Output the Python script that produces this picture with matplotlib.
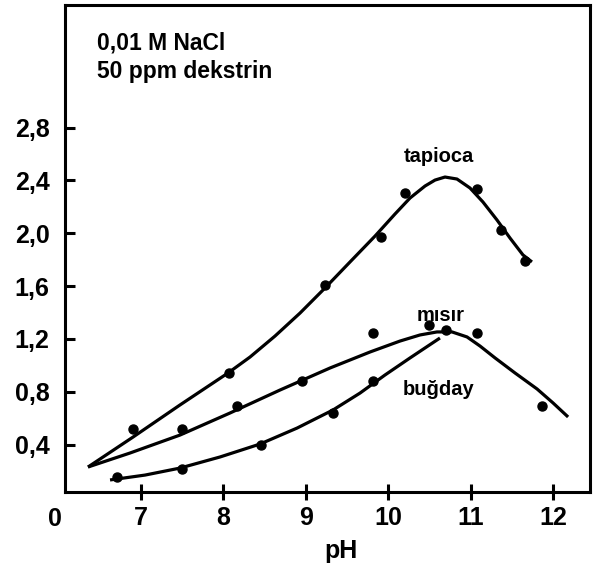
import matplotlib.pyplot as plt

plt.rcParams['font.family'] = ['Liberation Sans', 'DejaVu Sans']
plt.rcParams['font.weight'] = 'bold'

# measured points (pH, value)
tapioca_ph = [6.90, 8.07, 9.23, 9.91, 10.20, 11.07, 11.36, 11.655]
tapioca_val = [0.52, 0.94, 1.61, 1.97, 2.305, 2.335, 2.025, 1.79]

misir_ph = [7.50, 8.16, 8.95, 9.81, 10.49, 11.07, 11.86]
misir_val = [0.52, 0.69, 0.88, 1.245, 1.305, 1.245, 0.69]

bugday_ph = [6.71, 7.50, 8.455, 9.33, 9.81, 10.70]
bugday_val = [0.155, 0.215, 0.397, 0.64, 0.88, 1.27]

# hand drawn fit curves
tapioca_fit_ph = [6.358, 6.904, 7.473, 8.055, 8.322, 8.625, 8.928, 9.231, 9.534,
                  9.837, 10.079, 10.261, 10.443, 10.564, 10.685, 10.830, 10.988,
                  11.145, 11.315, 11.473, 11.630, 11.739]
tapioca_fit_val = [0.230, 0.457, 0.700, 0.942, 1.063, 1.222, 1.396, 1.586, 1.783,
                   1.979, 2.146, 2.267, 2.358, 2.403, 2.426, 2.411, 2.343,
                   2.237, 2.101, 1.964, 1.836, 1.783]

misir_fit_ph = [6.358, 6.867, 7.473, 8.079, 8.685, 9.292, 9.776, 10.140, 10.382,
                10.588, 10.770, 10.952, 11.110, 11.292, 11.534, 11.801, 11.995, 12.177]
misir_fit_val = [0.230, 0.336, 0.472, 0.639, 0.813, 0.980, 1.101, 1.184, 1.230,
                 1.253, 1.253, 1.215, 1.146, 1.056, 0.942, 0.821, 0.715, 0.609]

bugday_fit_ph = [6.625, 7.049, 7.473, 7.958, 8.443, 8.892, 9.328, 9.655, 9.958,
                 10.261, 10.624]
bugday_fit_val = [0.132, 0.169, 0.222, 0.306, 0.404, 0.525, 0.662, 0.790, 0.927,
                  1.056, 1.207]

x_ticks = [7, 8, 9, 10, 11, 12]
y_ticks = [0.4, 0.8, 1.2, 1.6, 2.0, 2.4, 2.8]
y_labels = ['0,4', '0,8', '1,2', '1,6', '2,0', '2,4', '2,8']

fig = plt.figure(figsize=(5.93, 5.72), dpi=100)
ax = fig.add_axes([0.1096, 0.1399, 0.8854, 0.8514])

lw = 2.3
for px, py in [(tapioca_fit_ph, tapioca_fit_val), (misir_fit_ph, misir_fit_val),
               (bugday_fit_ph, bugday_fit_val)]:
    ax.plot(px, py, color='black', lw=lw, solid_capstyle='butt', solid_joinstyle='round')

for px, py in [(tapioca_ph, tapioca_val), (misir_ph, misir_val), (bugday_ph, bugday_val)]:
    ax.plot(px, py, 'o', color='black', ms=6.5, ls='none')

ax.set_xlim(6.079, 12.443)
ax.set_ylim(0.041, 3.729)

ax.set_xticks(x_ticks)
ax.set_xticklabels([str(t) for t in x_ticks])
ax.set_yticks(y_ticks)
ax.set_yticklabels(y_labels)

for s in ax.spines.values():
    s.set_linewidth(2.2)

ax.tick_params(axis='x', direction='inout', length=12, width=2.2, pad=4, labelsize=18)
ax.tick_params(axis='y', direction='in', length=7.5, width=2.2, pad=11, labelsize=18)

fig.text(55 / 593, 1 - 518.5 / 572, '0', ha='center', va='center', fontsize=18,
         fontweight='bold')

ax.set_xlabel('pH', fontsize=18, fontweight='bold', va='baseline')
ax.xaxis.set_label_coords(0.526, -0.1355)

ax.text(0.061, 0.9076, '0,01 M NaCl', transform=ax.transAxes, fontsize=16.5,
        fontweight='bold', va='baseline')
ax.text(0.061, 0.850, '50 ppm dekstrin', transform=ax.transAxes, fontsize=16.5,
        fontweight='bold', va='baseline')

ax.text(10.615, 2.54, 'tapioca', ha='center', va='baseline', fontsize=14.5, fontweight='bold')
ax.text(10.636, 1.336, 'mısır', ha='center', va='baseline', fontsize=14.5, fontweight='bold')
ax.text(10.61, 0.775, 'buğday', ha='center', va='baseline', fontsize=14.5, fontweight='bold')

fig.savefig('out.png', dpi=100)
